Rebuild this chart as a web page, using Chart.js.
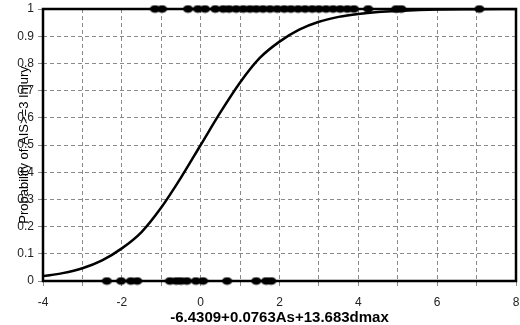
<!DOCTYPE html>
<html lang="en">
<head>
<meta charset="UTF-8">
<title>Probability of AIS>=3 Injury</title>
<script src="https://cdn.jsdelivr.net/npm/chart.js"></script>
<style>
  html, body { margin: 0; padding: 0; background: #fff; }
  #wrap { width: 520px; height: 325px; }
</style>
</head>
<body>
<div id="wrap"><canvas id="riskChart"></canvas></div>
<script>
// fitted curve
const curveX = [-4, -3.5, -3, -2.5, -2, -1.5, -1, -0.5, 0, 0.5, 1, 1.5, 2, 2.5, 3, 3.5, 4, 4.5, 5, 6, 7, 8];
const curveY = [0.018, 0.029, 0.047, 0.076, 0.12, 0.18, 0.27, 0.38, 0.5, 0.62, 0.73, 0.82, 0.88, 0.924, 0.953, 0.971, 0.982, 0.989, 0.993, 0.998, 0.999, 1];

// observed cases with AIS>=3 (plotted at 1)
const injuredX = [-1.16, -0.98, -0.32, -0.07, 0.11, 0.37, 0.57, 0.72, 0.90, 1.08, 1.25, 1.41, 1.58, 1.76,
  1.94, 2.12, 2.29, 2.47, 2.65, 2.83, 3.00, 3.18, 3.36, 3.54, 3.72, 3.89, 4.25, 4.96, 5.09, 7.07];
// observed cases without (plotted at 0)
const uninjuredX = [-2.38, -2.02, -1.77, -1.61, -0.78, -0.62, -0.50, -0.35, -0.12, 0.06, 0.67, 1.41, 1.66, 1.79];

const yTicks = [0, 0.1, 0.2, 0.3, 0.4, 0.5, 0.6, 0.7, 0.8, 0.9, 1];

// ellipse marker like the excel one
const dot = document.createElement('canvas');
dot.width = 11;
dot.height = 9;
const dctx = dot.getContext('2d');
dctx.fillStyle = '#000';
dctx.beginPath();
dctx.ellipse(5.5, 4.5, 5, 3.8, 0, 0, Math.PI * 2);
dctx.fill();

// black frame round the plot area
const frame = {
  id: 'frame',
  beforeDatasetsDraw(chart) {
    const a = chart.chartArea;
    const c = chart.ctx;
    c.save();
    c.strokeStyle = '#000';
    c.lineWidth = 2.5;
    c.setLineDash([]);
    c.strokeRect(a.left, a.top, a.right - a.left, a.bottom - a.top);
    c.restore();
  }
};

const tickFont = { family: 'Liberation Sans, Arial', size: 12 };

const ctx = document.getElementById('riskChart').getContext('2d');
new Chart(ctx, {
  type: 'scatter',
  data: {
    datasets: [
      {
        data: curveX.map((x, i) => ({ x: x, y: curveY[i] })),
        showLine: true,
        borderColor: '#000',
        borderWidth: 2.5,
        pointRadius: 0,
        cubicInterpolationMode: 'monotone',
        order: 0
      },
      {
        data: injuredX.map(x => ({ x: x, y: 1 })),
        pointStyle: dot,
        clip: false,
        order: 1
      },
      {
        data: uninjuredX.map(x => ({ x: x, y: 0 })),
        pointStyle: dot,
        clip: false,
        order: 1
      }
    ]
  },
  options: {
    responsive: true,
    maintainAspectRatio: false,
    animation: false,
    layout: { autoPadding: false, padding: { left: 0, right: 4, top: 9, bottom: 0 } },
    plugins: { legend: { display: false }, tooltip: { enabled: false } },
    scales: {
      x: {
        type: 'linear',
        min: -4,
        max: 8,
        afterFit(scale) {
          scale.height = 44;
          scale.paddingLeft = 0;
          scale.paddingRight = 0;
        },
        border: { display: false, dash: [4, 3] },
        grid: { color: '#8a8a8a', lineWidth: 1, tickLength: 5, tickColor: '#8a8a8a' },
        ticks: {
          stepSize: 1,
          autoSkip: false,
          maxRotation: 0,
          padding: 9,
          color: '#222',
          font: tickFont,
          callback: v => (v % 2 === 0 ? v : '')
        },
        title: {
          display: true,
          text: '-6.4309+0.0763As+13.683dmax',
          color: '#000',
          padding: { top: 0, bottom: -2 },
          font: { family: 'Liberation Sans, Arial', size: 15, weight: 'bold' }
        }
      },
      y: {
        min: 0,
        max: 1,
        afterFit(scale) {
          scale.width = 43;
          scale.paddingTop = 0;
          scale.paddingBottom = 0;
        },
        afterBuildTicks(scale) { scale.ticks = yTicks.map(v => ({ value: v })); },
        border: { display: false, dash: [4, 3] },
        grid: { color: '#8a8a8a', lineWidth: 1, tickLength: 5, tickColor: '#8a8a8a' },
        ticks: {
          padding: 4,
          color: '#222',
          font: tickFont,
          callback: v => String(+v.toFixed(1))
        },
        title: {
          display: true,
          text: 'Probability of AIS>=3 Injury',
          color: '#000',
          padding: { top: 17, bottom: 0 },
          font: { family: 'Liberation Sans, Arial', size: 13 }
        }
      }
    }
  },
  plugins: [frame]
});
</script>
</body>
</html>
